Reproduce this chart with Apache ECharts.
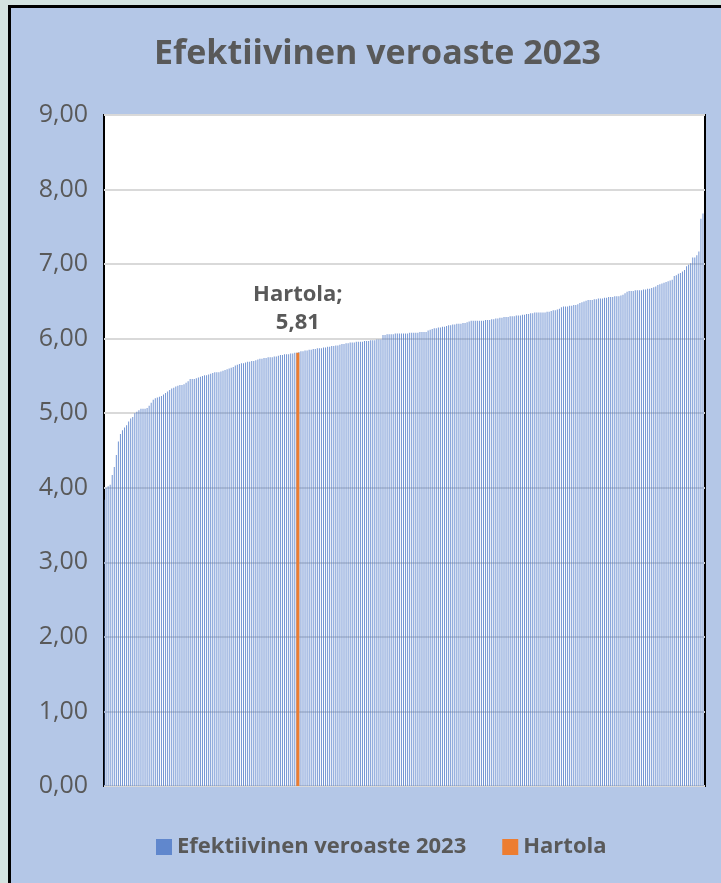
<!DOCTYPE html>
<html>
<head>
<meta charset="utf-8">
<script src="https://cdn.jsdelivr.net/npm/echarts@6/dist/echarts.min.js"></script>
<style>
  body { margin: 0; background: #d4e3e0; }
  #panel {
    position: absolute; left: 8px; top: 5px; width: 740px; height: 900px;
    background: #b4c7e7; border: 3px solid #000; box-sizing: border-box;
  }
  #chart { position: absolute; left: 0; top: 0; width: 721px; height: 883px; }
</style>
</head>
<body>
<div id="panel"></div>
<div id="chart"></div>
<script>
// effective tax rate per municipality, sorted ascending
const rates = [
  3.84, 4.00, 4.02, 4.04, 4.17, 4.28, 4.44, 4.62, 4.72, 4.77,
  4.81, 4.84, 4.89, 4.93, 4.95, 5.00, 5.02, 5.04, 5.06, 5.06,
  5.06, 5.07, 5.10, 5.14, 5.18, 5.20, 5.21, 5.22, 5.23, 5.25,
  5.27, 5.29, 5.31, 5.33, 5.34, 5.36, 5.37, 5.38, 5.38, 5.39,
  5.41, 5.43, 5.46, 5.46, 5.46, 5.47, 5.48, 5.49, 5.50, 5.51,
  5.51, 5.52, 5.53, 5.54, 5.55, 5.55, 5.55, 5.56, 5.57, 5.58,
  5.59, 5.60, 5.61, 5.62, 5.64, 5.65, 5.66, 5.67, 5.67, 5.68,
  5.69, 5.69, 5.70, 5.70, 5.71, 5.72, 5.73, 5.73, 5.74, 5.74,
  5.75, 5.75, 5.75, 5.76, 5.76, 5.77, 5.78, 5.78, 5.79, 5.79,
  5.79, 5.80, 5.80, 5.81, 5.81, 5.82, 5.83, 5.83, 5.84, 5.84,
  5.85, 5.85, 5.86, 5.86, 5.87, 5.87, 5.87, 5.88, 5.88, 5.89,
  5.89, 5.90, 5.90, 5.91, 5.91, 5.92, 5.93, 5.93, 5.94, 5.94,
  5.95, 5.95, 5.95, 5.96, 5.96, 5.96, 5.96, 5.97, 5.97, 5.97,
  5.98, 5.98, 5.98, 5.99, 5.99, 5.99, 6.05, 6.05, 6.06, 6.06,
  6.06, 6.06, 6.07, 6.07, 6.07, 6.07, 6.07, 6.07, 6.07, 6.08,
  6.08, 6.08, 6.08, 6.08, 6.09, 6.09, 6.09, 6.09, 6.11, 6.12,
  6.13, 6.14, 6.14, 6.15, 6.15, 6.16, 6.16, 6.17, 6.18, 6.18,
  6.19, 6.19, 6.20, 6.20, 6.20, 6.21, 6.21, 6.22, 6.23, 6.24,
  6.24, 6.24, 6.24, 6.24, 6.24, 6.24, 6.25, 6.25, 6.25, 6.26,
  6.26, 6.27, 6.27, 6.28, 6.28, 6.29, 6.29, 6.29, 6.30, 6.30,
  6.30, 6.31, 6.31, 6.31, 6.32, 6.32, 6.33, 6.33, 6.34, 6.34,
  6.35, 6.35, 6.35, 6.35, 6.35, 6.35, 6.36, 6.36, 6.37, 6.38,
  6.38, 6.39, 6.40, 6.42, 6.43, 6.43, 6.43, 6.44, 6.44, 6.45,
  6.45, 6.46, 6.48, 6.49, 6.50, 6.51, 6.52, 6.52, 6.52, 6.53,
  6.53, 6.54, 6.54, 6.54, 6.55, 6.55, 6.56, 6.56, 6.56, 6.57,
  6.57, 6.57, 6.58, 6.59, 6.61, 6.63, 6.64, 6.64, 6.64, 6.65,
  6.65, 6.65, 6.65, 6.66, 6.66, 6.67, 6.67, 6.68, 6.69, 6.70,
  6.72, 6.73, 6.74, 6.75, 6.76, 6.77, 6.78, 6.79, 6.84, 6.85,
  6.87, 6.88, 6.90, 6.92, 6.97, 6.99, 7.01, 7.09, 7.09, 7.12,
  7.17, 7.61, 7.68
];
const categories = rates.map((v, i) => String(i + 1));
const hartolaIndex = 94;
const hartolaValue = 5.81;
const yTicks = [0, 1, 2, 3, 4, 5, 6, 7, 8, 9];

const fmt = (v) => v.toFixed(2).replace(".", ",");
const hartolaData = categories.map((c, i) => (i === hartolaIndex ? hartolaValue : null));

function initChart() {
  const el = document.getElementById("chart");
  const chart = echarts.init(el);
  const textColor = "#595959";
  const options = {
    backgroundColor: "transparent",
    animation: false,
    title: {
      text: "Efektiivinen veroaste 2023",
      left: 149,
      top: 32,
      textStyle: { fontFamily: "Open Sans", fontWeight: "bold", fontSize: 34, color: textColor },
    },
    grid: {
      left: 104,
      top: 115,
      width: 601,
      height: 671,
      show: true,
      backgroundColor: "#fff",
      borderColor: "#000",
      borderWidth: 2,
    },
    legend: {
      data: ["Efektiivinen veroaste 2023", "Hartola"],
      left: 151,
      top: 831,
      icon: "rect",
      itemWidth: 16,
      itemHeight: 16,
      itemGap: 36,
      textStyle: { fontFamily: "Open Sans", fontWeight: "bold", fontSize: 22, color: textColor },
    },
    xAxis: {
      type: "category",
      data: categories,
      axisLine: { show: false },
      axisTick: { show: false },
      axisLabel: { show: false },
    },
    yAxis: {
      type: "value",
      min: yTicks[0],
      max: yTicks[yTicks.length - 1],
      interval: 1,
      axisLabel: {
        margin: 16,
        fontFamily: "Open Sans",
        fontSize: 25,
        color: textColor,
        formatter: (v) => fmt(v),
      },
      splitLine: { lineStyle: { color: "#d9d9d9", width: 2 } },
    },
    series: [
      {
        name: "Efektiivinen veroaste 2023",
        type: "bar",
        data: rates,
        barWidth: 1,
        itemStyle: { color: "#4472C4", opacity: 0.75 },
      },
      {
        name: "Hartola",
        type: "bar",
        data: hartolaData,
        barWidth: 3,
        barGap: "-100%",
        itemStyle: { color: "#ED7D31" },
        label: {
          show: true,
          position: "top",
          distance: 16,
          lineHeight: 28,
          fontFamily: "Open Sans",
          fontWeight: "bold",
          fontSize: 22,
          color: textColor,
          formatter: (p) => "Hartola;\n" + fmt(p.value),
        },
      },
    ],
  };
  chart.setOption(options);
}
initChart();
</script>
</body>
</html>
